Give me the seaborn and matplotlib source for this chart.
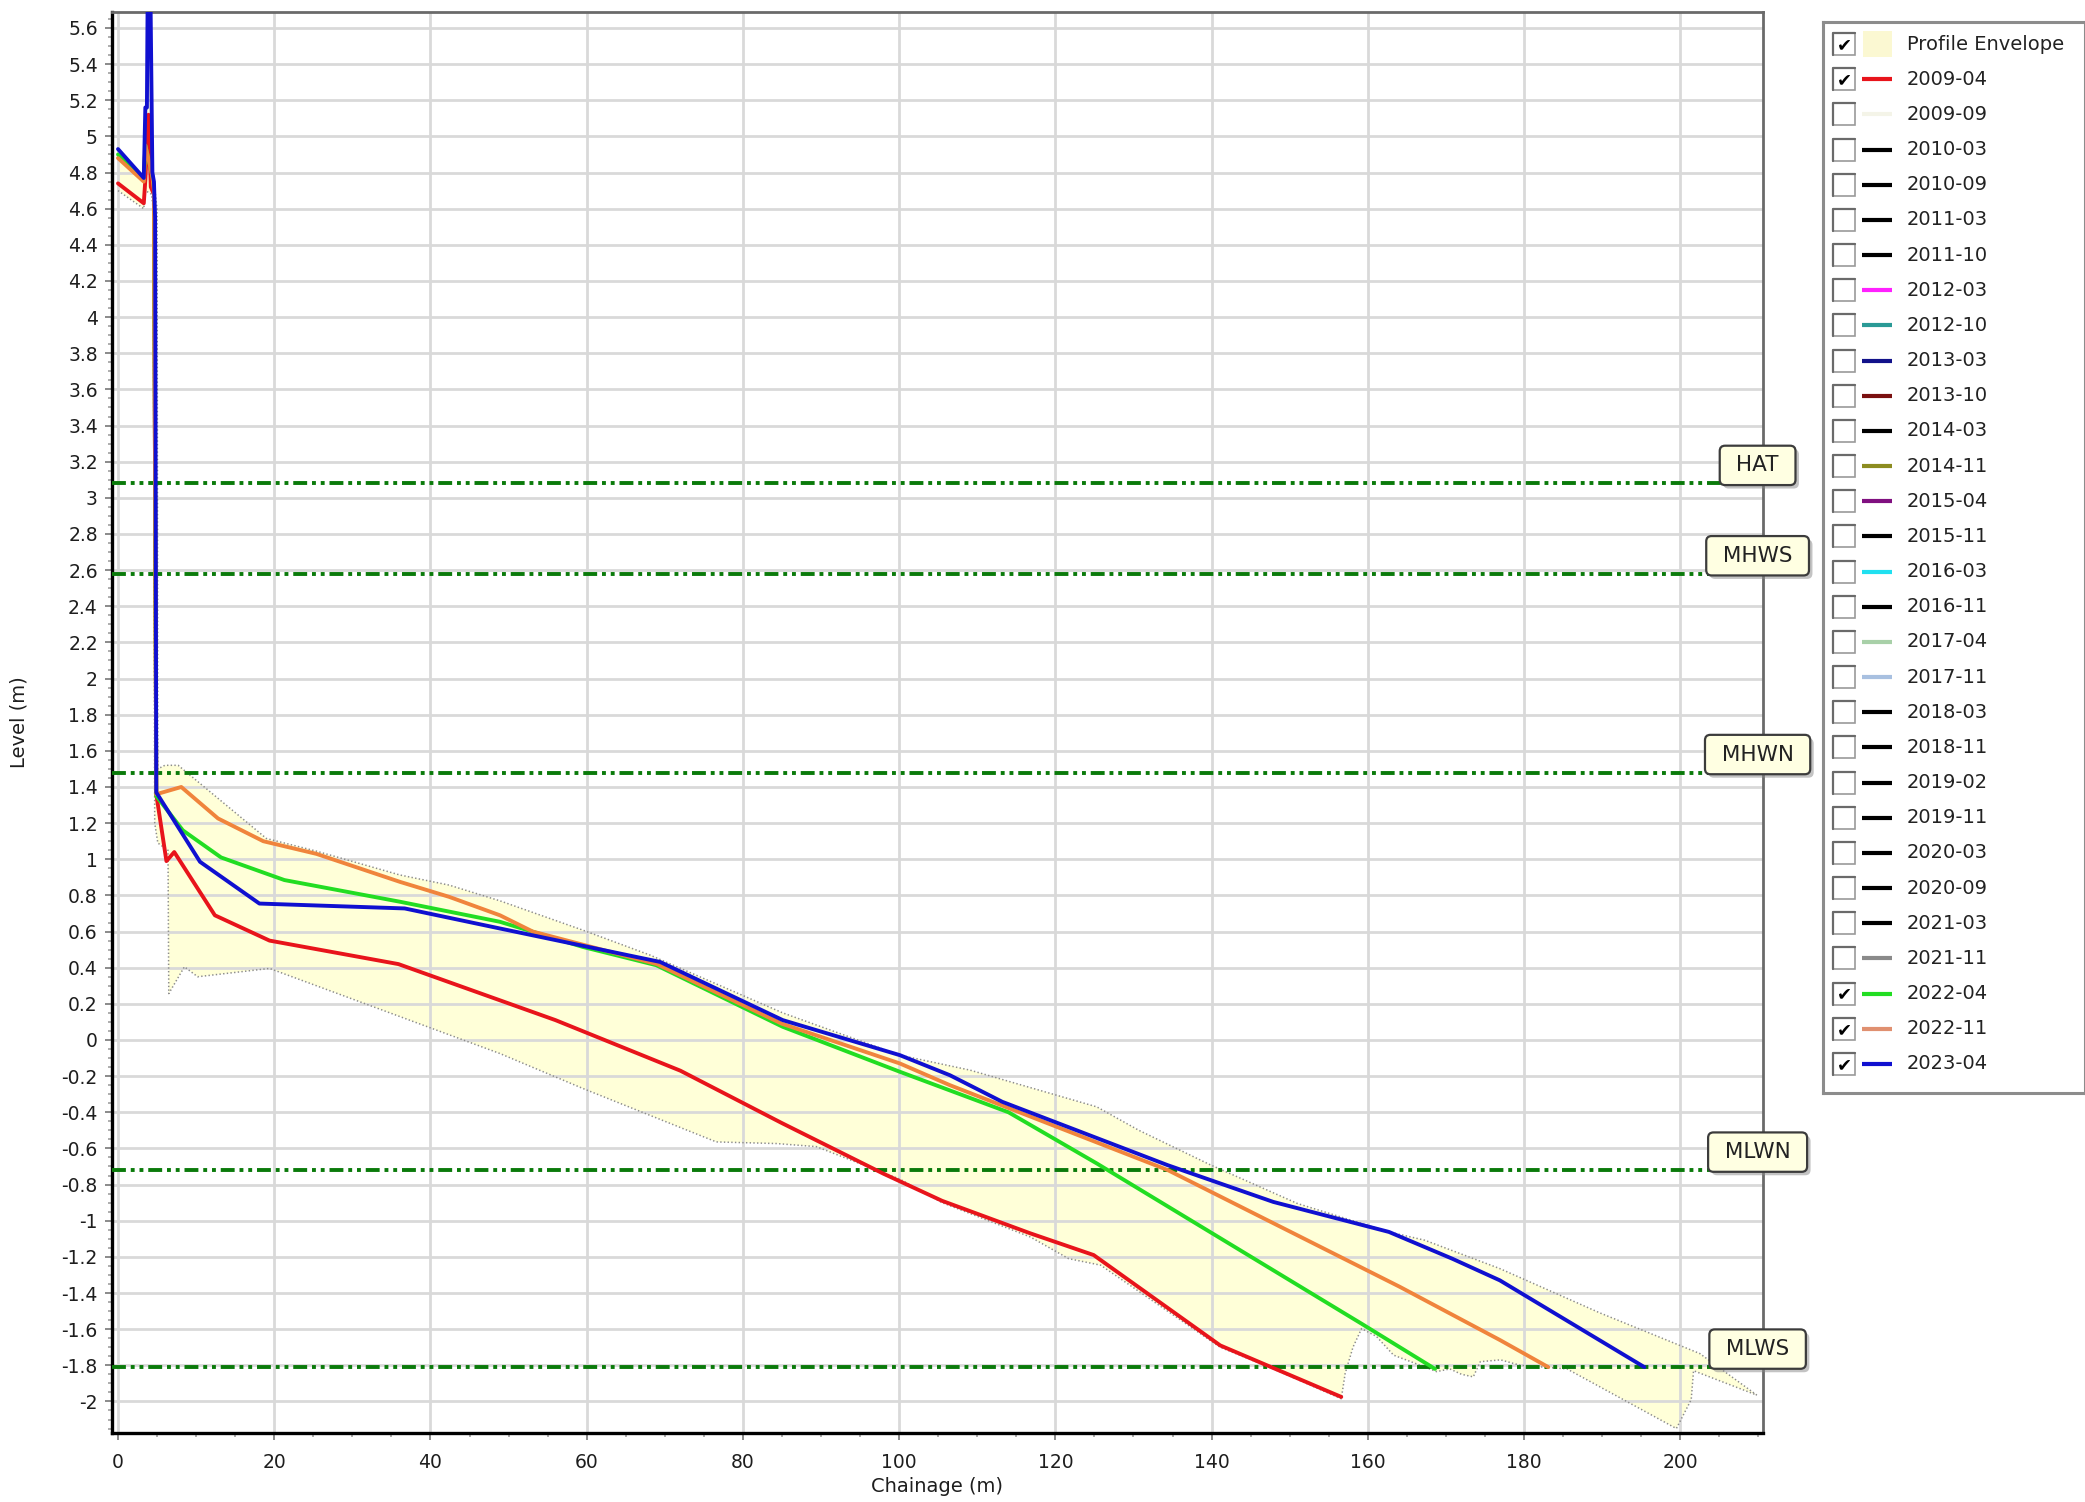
import numpy as np
import pandas as pd
import seaborn as sns
import matplotlib.pyplot as plt
from matplotlib.ticker import MultipleLocator, FuncFormatter
from matplotlib.patches import Rectangle
from matplotlib import patheffects

# ---- profile data (chainage m, level m) ----
red_x = [0, 3.3, 3.5, 3.9, 4.2, 4.6, 4.9, 6.2, 7.2, 12.4, 19.4, 35.9, 56.0, 72.0, 85.0, 98.0,
         105.5, 116.8, 124.9, 141.1, 156.6]
red_y = [4.74, 4.63, 4.76, 5.12, 4.72, 4.68, 1.36, 0.99, 1.04, 0.69, 0.55, 0.42, 0.11, -0.17, -0.46,
         -0.74, -0.89, -1.07, -1.19, -1.69, -1.975]

green_x = [0, 3.3, 3.5, 4.4, 4.6, 4.9, 8.3, 13.2, 21.3, 36.1, 48.9, 59.5, 68.9, 85.1, 100.1, 114.0,
           125.3, 159.2, 168.6]
green_y = [4.90, 4.76, 4.95, 4.78, 4.72, 1.35, 1.16, 1.01, 0.885, 0.765, 0.654, 0.515, 0.414, 0.073,
           -0.176, -0.40, -0.683, -1.57, -1.82]

orange_x = [0, 3.3, 3.5, 4.4, 4.6, 4.9, 8.1, 12.8, 18.6, 25.4, 36.1, 42.4, 48.9, 53.1, 69.0, 85.0,
            100.1, 106.5, 134.4, 164.1, 176.9, 183.1]
orange_y = [4.88, 4.75, 4.95, 4.78, 4.70, 1.36, 1.40, 1.226, 1.10, 1.03, 0.875, 0.792, 0.69, 0.60,
            0.42, 0.09, -0.13, -0.25, -0.72, -1.366, -1.66, -1.81]

blue_x = [0, 3.3, 3.5, 3.7, 3.8, 4.15, 4.4, 4.6, 4.75, 4.9, 10.5, 18.1, 36.7, 48.9, 69.4, 85.1,
          100.1, 106.5, 113.2, 134.4, 147.9, 162.7, 170.8, 176.9, 195.4]
blue_y = [4.93, 4.77, 5.16, 5.16, 5.8, 5.8, 4.80, 4.75, 4.55, 1.37, 0.986, 0.755, 0.728, 0.617, 0.432,
          0.11, -0.084, -0.195, -0.342, -0.693, -0.896, -1.062, -1.21, -1.33, -1.81]

# profile envelope (upper and lower bounds of all surveys)
env_up_x = [0, 3.3, 3.5, 3.7, 3.8, 4.15, 4.4, 4.6, 5.0, 5.1, 6.0, 7.7, 19.0, 25.4, 36.1, 42.4, 48.9,
            59.5, 68.1, 85.1, 100.1, 109.1, 125.3, 130.7, 139.8, 151.0, 162.7, 167.3, 176.9, 189.7,
            202.5, 209.8]
env_up_y = [4.93, 4.77, 5.16, 5.16, 5.8, 5.8, 4.80, 4.75, 4.60, 1.50, 1.52, 1.52, 1.115, 1.045, 0.913,
            0.857, 0.77, 0.608, 0.47, 0.15, -0.084, -0.167, -0.37, -0.50, -0.69, -0.905, -1.062,
            -1.108, -1.265, -1.51, -1.735, -1.965]
env_lo_x = [0, 3.3, 3.5, 4.3, 4.5, 4.7, 5.1, 6.4, 6.5, 8.5, 10.2, 19.4, 48.9, 59.5, 76.6, 84.3, 89.4,
            100.1, 105.5, 116.8, 121.7, 125.8, 141.1, 147.9, 156.6, 157.1, 158.1, 159.2, 161.1, 163.3,
            165.5, 168.8, 170.5, 172.0, 173.5, 174.4, 177.0, 179.5, 185.5, 199.5, 201.4, 201.7, 209.8]
env_lo_y = [4.70, 4.60, 4.70, 4.68, 4.60, 1.20, 1.09, 1.05, 0.257, 0.405, 0.35, 0.396, -0.075, -0.268,
            -0.564, -0.573, -0.59, -0.77, -0.90, -1.09, -1.21, -1.246, -1.70, -1.82, -1.985, -1.845,
            -1.70, -1.597, -1.64, -1.744, -1.78, -1.835, -1.82, -1.85, -1.864, -1.78, -1.77, -1.80,
            -1.82, -2.15, -1.99, -1.83, -1.965]

# tidal levels
tide_names = ['HAT', 'MHWS', 'MHWN', 'MLWN', 'MLWS']
tide_levels = [3.08, 2.58, 1.48, -0.72, -1.81]

# legend entries
legend_labels = ['Profile Envelope', '2009-04', '2009-09', '2010-03', '2010-09', '2011-03', '2011-10',
                 '2012-03', '2012-10', '2013-03', '2013-10', '2014-03', '2014-11', '2015-04', '2015-11',
                 '2016-03', '2016-11', '2017-04', '2017-11', '2018-03', '2018-11', '2019-02', '2019-11',
                 '2020-03', '2020-09', '2021-03', '2021-11', '2022-04', '2022-11', '2023-04']
legend_colors = ['#fbf8d2', '#e8141b', '#f4f4e8', 'black', 'black', 'black', 'black', '#ff20ff',
                 '#2a9a96', '#12128a', '#7a1010', 'black', '#8c8c20', '#801080', 'black', '#20e0f0',
                 'black', '#a8d0a8', '#a8c0e0', 'black', 'black', 'black', 'black', 'black', 'black',
                 'black', '#8a8a8a', '#22dd22', '#e09070', '#1010d0']
legend_checked = [True, True] + [False] * 25 + [True, True, True]

profiles = {
    '2009-04': (red_x, red_y, '#e8141b'),
    '2022-04': (green_x, green_y, '#22dd22'),
    '2022-11': (orange_x, orange_y, '#f0843c'),
    '2023-04': (blue_x, blue_y, '#1010d0'),
}
frames = [pd.DataFrame({'chainage': v[0], 'level': v[1], 'survey': k}) for k, v in profiles.items()]
df = pd.concat(frames, ignore_index=True)

sns.set_theme(style='white')
plt.rcParams['font.family'] = ['DejaVu Sans']
plt.rcParams['lines.scale_dashes'] = False

fig = plt.figure(figsize=(20.85, 15.02), dpi=100)
ax = fig.add_axes([0.0536, 0.0459, 0.8456 - 0.0536, 0.9922 - 0.0459])

# envelope
poly_x = np.r_[env_up_x, env_lo_x[::-1]]
poly_y = np.r_[env_up_y, env_lo_y[::-1]]
ax.fill(poly_x, poly_y, color='#ffffd4', alpha=0.9, lw=0, zorder=0.4)
ax.plot(env_up_x, env_up_y, color='#8c8c8c', lw=1.1, ls=':', zorder=1)
ax.plot(env_lo_x, env_lo_y, color='#8c8c8c', lw=1.1, ls=':', zorder=1)

# tide lines
for name, lvl in zip(tide_names, tide_levels):
    ax.axhline(lvl, color='#0a7a0a', lw=2.8, dashes=(10, 3.5, 2.8, 3.5, 2.8, 3.5), zorder=3)
    t = ax.annotate(f' {name} ', xy=(209.9, lvl), xytext=(0, 18), textcoords='offset pixels',
                    ha='center', va='center', fontsize=15.5, color='#222222', zorder=6,
                    annotation_clip=False,
                    bbox=dict(boxstyle='round,pad=0.45,rounding_size=0.25', fc='#ffffe2',
                              ec='#3c3c3c', lw=1.6))
    t.get_bbox_patch().set_path_effects([patheffects.withSimplePatchShadow(offset=(2.5, -2.5),
                                                                           shadow_rgbFace='#888888',
                                                                           alpha=0.5)])

# profiles
sns.lineplot(data=df, x='chainage', y='level', hue='survey',
             palette={k: v[2] for k, v in profiles.items()}, estimator=None, sort=False,
             legend=False, lw=2.8, ax=ax, zorder=4)

ax.set_xlim(-0.8, 210.6)
ax.set_ylim(-2.175, 5.69)
ax.xaxis.set_major_locator(MultipleLocator(20))
ax.xaxis.set_minor_locator(MultipleLocator(5))
ax.yaxis.set_major_locator(MultipleLocator(0.2))
ax.yaxis.set_minor_locator(MultipleLocator(0.05))


def fmt(v, pos):
    v = round(v, 1)
    if abs(v) < 1e-9:
        return '0'
    return f'{v:g}'


ax.yaxis.set_major_formatter(FuncFormatter(fmt))
ax.grid(True, which='major', color='#d9d9d9', lw=2.0)
ax.set_axisbelow(True)
ax.tick_params(which='major', direction='out', length=5, width=1.4, color='#8a8a8a',
               labelsize=13.5, labelcolor='#1e1e1e', left=True, bottom=True, pad=5)
ax.tick_params(axis='x', which='major', pad=9)
ax.tick_params(which='minor', direction='out', length=3, width=1.2, color='#a0a0a0',
               left=True, bottom=True)
for side in ['left', 'bottom']:
    ax.spines[side].set_color('black')
    ax.spines[side].set_linewidth(2.4)
for side in ['top', 'right']:
    ax.spines[side].set_color('#6a6a6a')
    ax.spines[side].set_linewidth(2.0)
ax.set_xlabel('Chainage (m)', fontsize=14, color='#1e1e1e', labelpad=4)
ax.set_ylabel('Level (m)', fontsize=14, color='#1e1e1e', labelpad=24)

# legend panel with check boxes
lg = fig.add_axes([1823 / 2085, 1 - 1093 / 1502, 262 / 2085, 1071 / 1502])
lg.set_xlim(0, 262)
lg.set_ylim(1071, 0)
lg.set_xticks([])
lg.set_yticks([])
for s in lg.spines.values():
    s.set_color('#8c8c8c')
    s.set_linewidth(2.2)
step = 35.17
for i, (lab, col, chk) in enumerate(zip(legend_labels, legend_colors, legend_checked)):
    y = 22 + i * step
    lg.add_patch(Rectangle((10, y - 11), 22, 22, fc='white', ec='#9a9a9a', lw=1.2))
    lg.plot([10, 10, 32], [y + 11, y - 11, y - 11], color='#6a6a6a', lw=1.6)
    if chk:
        lg.text(21, y + 1, '\u2714', ha='center', va='center', fontsize=13, color='black')
    if i == 0:
        lg.add_patch(Rectangle((40, y - 13), 29, 26, fc=col, ec='none'))
    else:
        lg.plot([39, 69], [y, y], color=col, lw=3, solid_capstyle='butt')
    lg.text(84, y, lab, ha='left', va='center', fontsize=14, color='#222222')

fig.savefig('out.png', dpi=100, facecolor='white')
